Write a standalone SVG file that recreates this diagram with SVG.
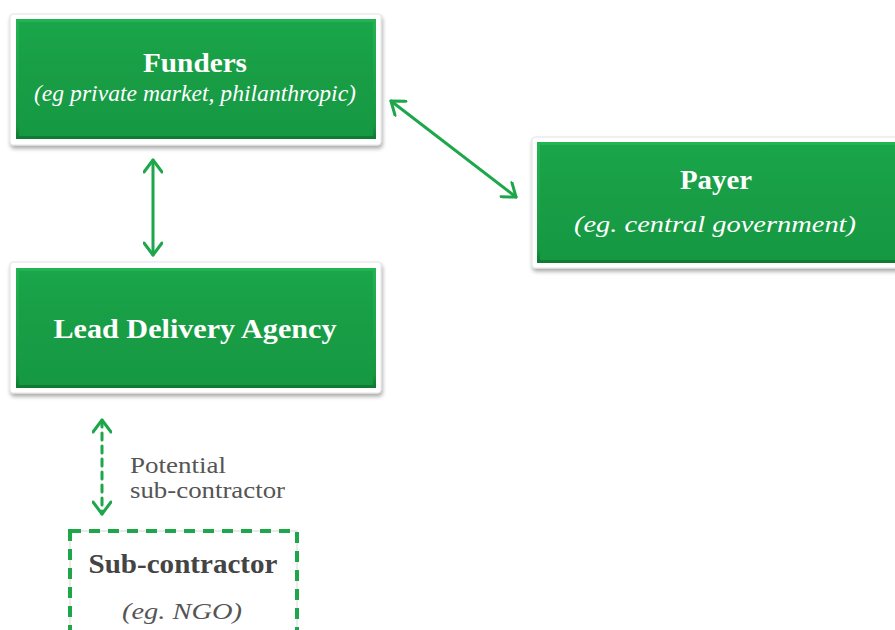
<svg xmlns="http://www.w3.org/2000/svg" width="895" height="630" viewBox="0 0 895 630">
<defs>
<style>
.frame{fill:#ffffff;stroke:#e2e2e2;stroke-width:1;filter:url(#sh)}
.box{fill:url(#g)}
.bev{fill:none;stroke:url(#bv);stroke-width:3}
.t{font-family:"Liberation Serif","DejaVu Serif",serif;fill:#ffffff;text-anchor:middle}
.b{font-weight:bold;font-size:27px}
.i{font-style:italic;font-size:23px}
.lbl{font-family:"Liberation Serif","DejaVu Serif",serif;fill:#555555;font-size:23px}
.sub{font-family:"Liberation Serif","DejaVu Serif",serif;fill:#444444;text-anchor:middle}
.con{stroke:#1ea64b;stroke-width:3;fill:none;stroke-linecap:round}
</style>
<linearGradient id="g" x1="0" y1="0" x2="0" y2="1">
<stop offset="0" stop-color="#1aa64b"/>
<stop offset="0.5" stop-color="#189d45"/>
<stop offset="1" stop-color="#169843"/>
</linearGradient>
<linearGradient id="bv" x1="0" y1="0" x2="0" y2="1">
<stop offset="0" stop-color="#22b352"/>
<stop offset="0.9" stop-color="#17963f"/>
<stop offset="1" stop-color="#0f7a32"/>
</linearGradient>
<filter id="sh" x="-5%" y="-10%" width="110%" height="125%">
<feGaussianBlur in="SourceAlpha" stdDeviation="2"/>
<feOffset dx="1" dy="3" result="o"/>
<feComponentTransfer><feFuncA type="linear" slope="0.35"/></feComponentTransfer>
<feMerge><feMergeNode/><feMergeNode in="SourceGraphic"/></feMerge>
</filter>
<marker id="ah" viewBox="0 0 20 20" refX="18" refY="10" markerWidth="20" markerHeight="20" markerUnits="userSpaceOnUse" orient="auto-start-reverse">
<path d="M6,1 L18,10 L6,19" fill="none" stroke="#1ea64b" stroke-width="3" stroke-linecap="round" stroke-linejoin="round"/>
</marker>
</defs>

<g id="connectors">
<line class="con" x1="153" y1="160" x2="153" y2="255" marker-start="url(#ah)" marker-end="url(#ah)"/>
<line class="con" x1="391" y1="101" x2="516" y2="197" marker-start="url(#ah)" marker-end="url(#ah)"/>
<line class="con" x1="102" y1="420" x2="102" y2="514" stroke-dasharray="7 6" stroke-linecap="butt" marker-start="url(#ah)" marker-end="url(#ah)"/>
<text class="lbl" x="130" y="473" textLength="96" lengthAdjust="spacingAndGlyphs">Potential</text>
<text class="lbl" x="130" y="498" textLength="155" lengthAdjust="spacingAndGlyphs">sub-contractor</text>
</g>

<g id="funders">
<rect class="frame" x="10" y="14" width="371" height="131" rx="3"/>
<rect class="box" x="16" y="19" width="360" height="120"/>
<rect class="bev" x="17.5" y="20.5" width="357" height="117"/>
<text class="t b" x="195" y="72" textLength="104" lengthAdjust="spacingAndGlyphs">Funders</text>
<text class="t i" x="195" y="101" textLength="322" lengthAdjust="spacingAndGlyphs">(eg private market, philanthropic)</text>
</g>

<g id="payer">
<rect class="frame" x="532" y="137" width="380" height="131" rx="3"/>
<rect class="box" x="537" y="142" width="370" height="121"/>
<rect class="bev" x="538.5" y="143.5" width="367" height="118"/>
<text class="t b" x="716" y="189" textLength="72" lengthAdjust="spacingAndGlyphs">Payer</text>
<text class="t i" x="715" y="232" textLength="282" lengthAdjust="spacingAndGlyphs">(eg. central government)</text>
</g>

<g id="lead">
<rect class="frame" x="10" y="262" width="371" height="131" rx="3"/>
<rect class="box" x="16" y="268" width="360" height="120"/>
<rect class="bev" x="17.5" y="269.5" width="357" height="117"/>
<text class="t b" x="195" y="338" textLength="283" lengthAdjust="spacingAndGlyphs">Lead Delivery Agency</text>
</g>

<g id="subcontractor">
<rect x="70" y="531" width="227" height="120" fill="#ffffff" stroke="#d8d8d8" stroke-width="1"/>
<rect x="70" y="531" width="227" height="120" fill="none" stroke="#1ea64b" stroke-width="4" stroke-dasharray="11 8"/>
<text class="sub b" x="183" y="573" textLength="189" lengthAdjust="spacingAndGlyphs">Sub-contractor</text>
<text class="sub i" x="182" y="619" textLength="120" lengthAdjust="spacingAndGlyphs" style="fill:#555555">(eg. NGO)</text>
</g>
</svg>
